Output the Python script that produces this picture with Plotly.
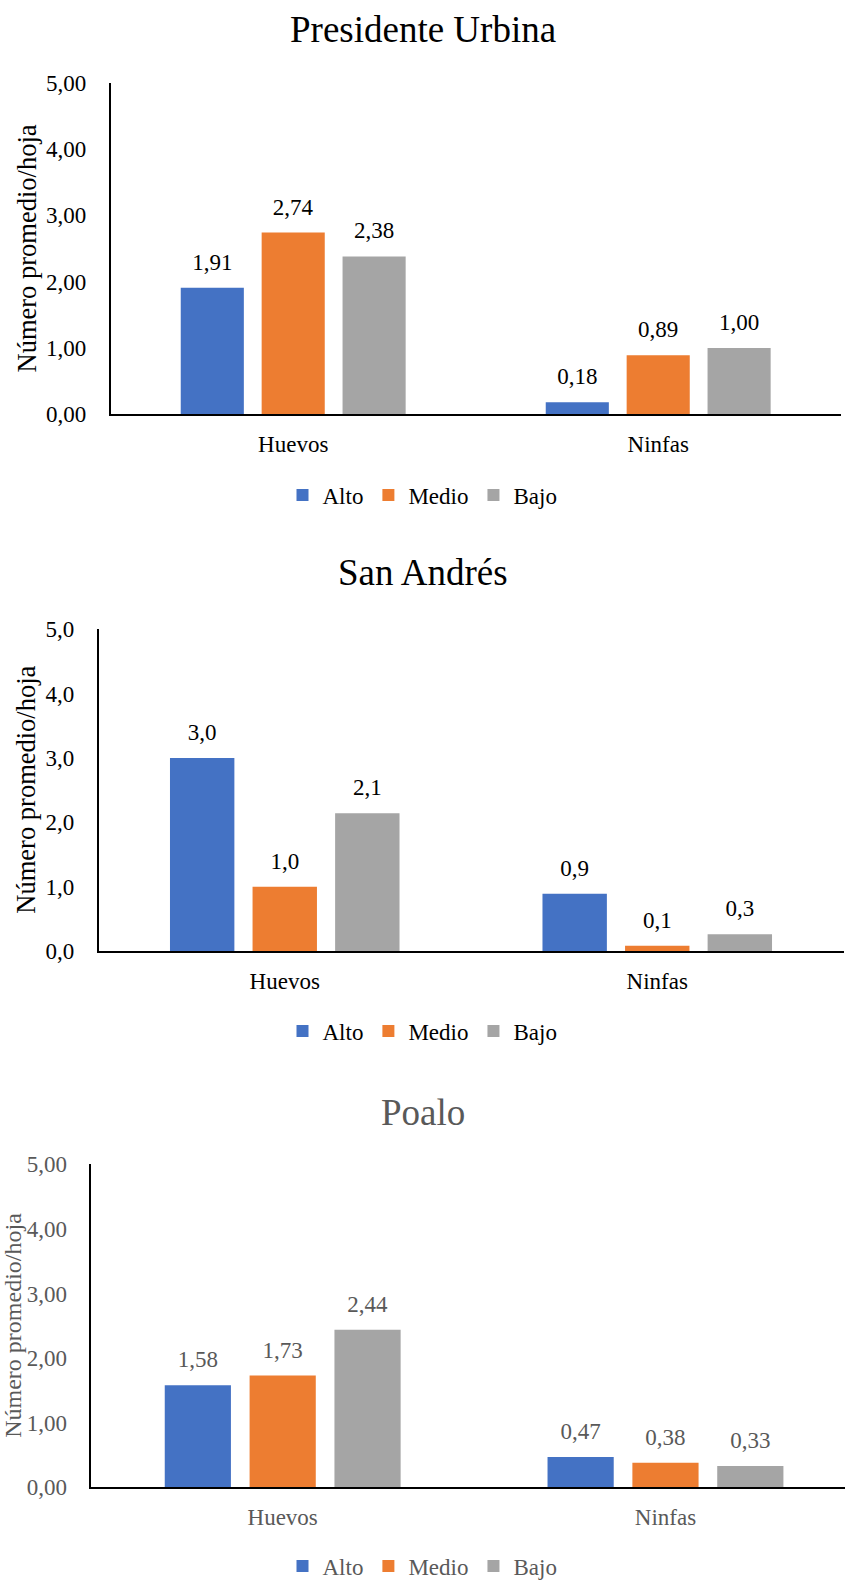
import plotly.graph_objects as go

# Categories and series shared by the three localities
categorias = ["Huevos", "Ninfas"]
niveles = ["Alto", "Medio", "Bajo"]
colores = ["#4472C4", "#ED7D31", "#A5A5A5"]

# Mean count per leaf, one list per level (Huevos, Ninfas)
urbina_alto = [1.91, 0.18]
urbina_medio = [2.74, 0.89]
urbina_bajo = [2.38, 1.00]

andres_alto = [3.0, 0.89]
andres_medio = [1.0, 0.08]
andres_bajo = [2.14, 0.26]

poalo_alto = [1.58, 0.47]
poalo_medio = [1.73, 0.38]
poalo_bajo = [2.44, 0.33]

titulos = ["Presidente Urbina", "San Andrés", "Poalo"]
eje_y = "Número promedio/hoja"

W, H = 845, 1580
FONT = "Liberation Serif"


def py(px):
    """pixel row -> paper y"""
    return 1 - px / H


def pxx(px):
    return px / W


paneles = [
    dict(series=[urbina_alto, urbina_medio, urbina_bajo], fmt=".2f", color="#000000",
         top=82.7, bottom=414.3, left=110.7, right=840.7, xr=[-0.5, 1.5],
         title_y=30, legend_y=495, ytitle_x=27, ytitle_size=26.5),
    dict(series=[andres_alto, andres_medio, andres_bajo], fmt=".1f", color="#000000",
         top=629.3, bottom=951, left=98.5, right=843.5, xr=[-0.5, 1.5],
         title_y=573, legend_y=1031, ytitle_x=26.5, ytitle_size=26.5),
    dict(series=[poalo_alto, poalo_medio, poalo_bajo], fmt=".2f", color="#595959",
         top=1164.3, bottom=1487.3, left=91.3, right=845, xr=[-0.5, 1.469],
         title_y=1112, legend_y=1566, ytitle_x=13, ytitle_size=24),
]

fig = go.Figure()
annotations = []
layout_axes = {}

for i, p in enumerate(paneles):
    n = "" if i == 0 else str(i + 1)
    xa, ya = "x" + n, "y" + n
    leg = "legend" + n
    for nombre, valores, color in zip(niveles, p["series"], colores):
        fig.add_trace(go.Bar(
            x=categorias, y=valores, name=nombre, marker=dict(color=color, line=dict(width=0)),
            xaxis=xa, yaxis=ya, legend=leg,
            # value in 23px, followed by a small spacer line that lifts it off the bar
            texttemplate="<span style='font-size:23px'>%{y:" + p["fmt"] + "}</span>"
                         "<br><span style='font-size:10px'> </span>",
            textposition="outside", cliponaxis=False,
            textfont=dict(family=FONT, size=10, color=p["color"]),
        ))

    layout_axes["xaxis" + n] = dict(
        domain=[pxx(p["left"]), pxx(p["right"])], anchor=ya, range=p["xr"],
        showline=True, linecolor="#000000", linewidth=2, ticks="", showgrid=False,
        zeroline=False, automargin=False, ticklabelstandoff=8,
        tickfont=dict(family=FONT, size=23, color=p["color"]),
    )
    layout_axes["yaxis" + n] = dict(
        domain=[py(p["bottom"]), py(p["top"])], anchor=xa, range=[0, 5], dtick=1,
        tickformat=p["fmt"], showline=True, linecolor="#000000", linewidth=1.5,
        ticks="", showgrid=False, zeroline=False, automargin=False, ticklabelstandoff=18,
        tickfont=dict(family=FONT, size=23, color=p["color"]),
    )
    layout_axes[leg] = dict(
        orientation="h", x=0.5, xanchor="center", y=py(p["legend_y"]), yanchor="middle",
        font=dict(family=FONT, size=23, color=p["color"]), itemwidth=30,
        bgcolor="rgba(0,0,0,0)",
    )
    annotations.append(dict(
        text=titulos[i], xref="paper", yref="paper", x=423 / W, y=py(p["title_y"]),
        xanchor="center", yanchor="middle", showarrow=False,
        font=dict(family=FONT, size=37, color=p["color"]),
    ))
    annotations.append(dict(
        text=eje_y, xref="paper", yref="paper", x=pxx(p["ytitle_x"]),
        y=py((p["top"] + p["bottom"]) / 2), xanchor="center", yanchor="middle",
        textangle=-90, showarrow=False,
        font=dict(family=FONT, size=p["ytitle_size"], color=p["color"]),
    ))

fig.update_layout(
    template="none",
    width=W, height=H, margin=dict(l=0, r=0, t=0, b=0, autoexpand=False),
    paper_bgcolor="white", plot_bgcolor="white",
    font=dict(family=FONT, color="#000000"),
    barmode="group", bargap=0.335, bargroupgap=0.22,
    separators=",.", showlegend=True,
    annotations=annotations,
    **layout_axes,
)

fig.write_html("out.html")
